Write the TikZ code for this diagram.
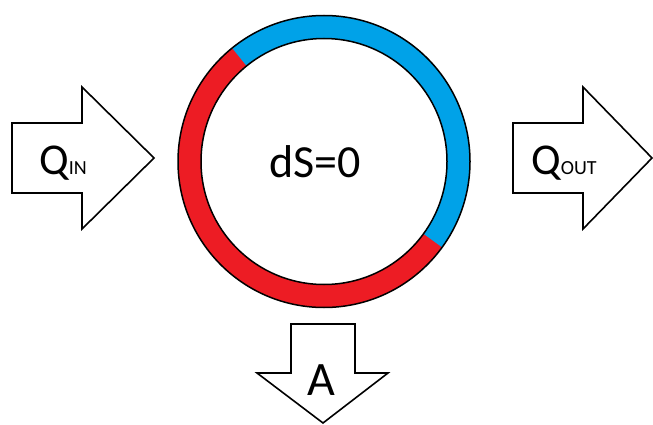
\documentclass[tikz,border=0pt]{standalone}
\usepackage{fontspec}
\setmainfont{Carlito}
\usetikzlibrary{calc}

\definecolor{ringred}{RGB}{237,28,36}
\definecolor{ringblue}{RGB}{0,162,232}
\newcommand{\smalltag}[1]{{\fontsize{20}{22}\selectfont #1}}

\begin{document}
\begin{tikzpicture}[x=1pt, y=1pt,
    blockarrow/.style={draw, line width=1.6pt, fill=white, line join=miter},
    bigtext/.style={font=\fontsize{44}{50}\selectfont, inner sep=0pt, anchor=base}]
  \useasboundingbox (0,0) rectangle (653,424);

  % Ring: red all round, blue over the upper right
  \coordinate (c) at (324,262.5);
  \fill[ringred, even odd rule] (c) circle (146) (c) circle (123);
  \fill[ringblue] ($(c)+(-36:146)$) arc[start angle=-36, end angle=129, radius=146]
    -- ($(c)+(129:123)$) arc[start angle=129, end angle=-36, radius=123] -- cycle;
  \draw[line width=1.5pt] (c) circle (146) (c) circle (123);
  \node[bigtext, font=\fontsize{46}{52}\selectfont] (entropy) at (315,247) {dS=0};

  % Heat in, heat out
  \draw[blockarrow] (12,301) -- (82,301) -- (82,337) -- (154,266) -- (82,195) -- (82,231) -- (12,231) -- cycle;
  \node[bigtext] (qin) at (63,250) {Q\smalltag{IN}};
  \draw[blockarrow] (513,301) -- (583,301) -- (583,337) -- (652,266) -- (583,195) -- (583,231) -- (513,231) -- cycle;
  \node[bigtext] (qout) at (564,250) {Q\smalltag{OUT}};

  % Work out
  \draw[blockarrow] (291,100) -- (355,100) -- (355,51) -- (388,51) -- (323,1) -- (257,51) -- (291,51) -- cycle;
  \node[bigtext, font=\fontsize{48}{54}\selectfont] (work) at (321,29) {A};
\end{tikzpicture}
\end{document}
